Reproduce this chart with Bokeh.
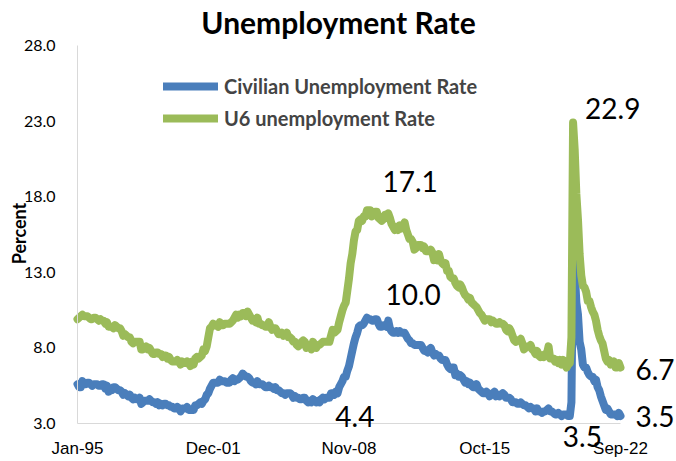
import pandas as pd
from math import pi
from bokeh.plotting import figure
from bokeh.models import (Range1d, FixedTicker, Legend, LegendItem, Label,
                          PrintfTickFormatter, LinearAxis)
from bokeh.embed import file_html
from bokeh.resources import INLINE

# Monthly data, Jan-1995 .. Sep-2022
civilian = [
    5.6, 5.4, 5.4, 5.8, 5.6, 5.6, 5.7, 5.7, 5.6, 5.5, 5.6, 5.6,   # 1995
    5.6, 5.5, 5.5, 5.6, 5.6, 5.3, 5.5, 5.1, 5.2, 5.2, 5.4, 5.4,   # 1996
    5.3, 5.2, 5.2, 5.1, 4.9, 5.0, 4.9, 4.8, 4.9, 4.7, 4.6, 4.7,   # 1997
    4.6, 4.6, 4.7, 4.3, 4.4, 4.5, 4.5, 4.5, 4.6, 4.5, 4.4, 4.4,   # 1998
    4.3, 4.4, 4.2, 4.3, 4.2, 4.3, 4.3, 4.2, 4.2, 4.1, 4.1, 4.0,   # 1999
    4.0, 4.1, 4.0, 3.8, 4.0, 4.0, 4.0, 4.1, 3.9, 3.9, 3.9, 3.9,   # 2000
    4.2, 4.2, 4.3, 4.4, 4.3, 4.5, 4.6, 4.9, 5.0, 5.3, 5.5, 5.7,   # 2001
    5.7, 5.7, 5.7, 5.9, 5.8, 5.8, 5.8, 5.7, 5.7, 5.7, 5.9, 6.0,   # 2002
    5.8, 5.9, 5.9, 6.0, 6.1, 6.3, 6.2, 6.1, 6.1, 6.0, 5.8, 5.7,   # 2003
    5.7, 5.6, 5.8, 5.6, 5.6, 5.6, 5.5, 5.4, 5.4, 5.5, 5.4, 5.4,   # 2004
    5.3, 5.4, 5.2, 5.2, 5.1, 5.0, 5.0, 4.9, 5.0, 5.0, 5.0, 4.9,   # 2005
    4.7, 4.8, 4.7, 4.7, 4.6, 4.6, 4.7, 4.7, 4.5, 4.4, 4.5, 4.4,   # 2006
    4.6, 4.5, 4.4, 4.5, 4.4, 4.6, 4.7, 4.6, 4.7, 4.7, 4.7, 5.0,   # 2007
    5.0, 4.9, 5.1, 5.0, 5.4, 5.6, 5.8, 6.1, 6.1, 6.5, 6.8, 7.3,   # 2008
    7.8, 8.3, 8.7, 9.0, 9.4, 9.5, 9.5, 9.6, 9.8, 10.0, 9.9, 9.9,  # 2009
    9.8, 9.8, 9.9, 9.9, 9.6, 9.4, 9.4, 9.5, 9.5, 9.4, 9.8, 9.3,   # 2010
    9.1, 9.0, 9.0, 9.1, 9.0, 9.1, 9.0, 9.0, 9.0, 8.8, 8.6, 8.5,   # 2011
    8.3, 8.3, 8.2, 8.2, 8.2, 8.2, 8.2, 8.0, 7.8, 7.8, 7.7, 7.9,   # 2012
    8.0, 7.7, 7.5, 7.6, 7.5, 7.5, 7.3, 7.2, 7.2, 7.2, 6.9, 6.7,   # 2013
    6.6, 6.7, 6.7, 6.2, 6.3, 6.1, 6.2, 6.1, 5.9, 5.7, 5.8, 5.6,   # 2014
    5.7, 5.5, 5.4, 5.4, 5.6, 5.3, 5.2, 5.1, 5.0, 5.0, 5.1, 5.0,   # 2015
    4.8, 4.9, 5.0, 5.1, 4.8, 4.9, 4.8, 4.9, 5.0, 4.9, 4.7, 4.7,   # 2016
    4.7, 4.6, 4.4, 4.4, 4.4, 4.3, 4.3, 4.4, 4.3, 4.2, 4.2, 4.1,   # 2017
    4.0, 4.1, 4.0, 4.0, 3.8, 4.0, 3.8, 3.8, 3.7, 3.8, 3.8, 3.9,   # 2018
    4.0, 3.8, 3.8, 3.7, 3.6, 3.6, 3.7, 3.6, 3.5, 3.6, 3.6, 3.6,   # 2019
    3.5, 3.5, 4.4, 14.7, 13.2, 11.0, 10.2, 8.4, 7.9, 6.9, 6.7, 6.7,  # 2020
    6.4, 6.2, 6.1, 6.1, 5.8, 5.9, 5.4, 5.2, 4.8, 4.5, 4.2, 3.9,   # 2021
    4.0, 3.8, 3.6, 3.6, 3.6, 3.6, 3.5, 3.7, 3.5,                  # 2022
]

u6 = [
    9.9, 10.0, 10.1, 10.2, 10.1, 10.1, 10.1, 10.0, 9.9, 9.9, 10.0, 10.0,   # 1995
    9.9, 9.8, 9.9, 9.8, 9.8, 9.6, 9.7, 9.4, 9.4, 9.4, 9.3, 9.5,            # 1996
    9.4, 9.3, 9.3, 9.1, 8.8, 8.9, 8.8, 8.7, 8.7, 8.4, 8.3, 8.4,            # 1997
    8.4, 8.4, 8.4, 7.9, 7.9, 8.0, 8.1, 7.9, 8.0, 7.8, 7.6, 7.6,            # 1998
    7.7, 7.7, 7.6, 7.6, 7.4, 7.5, 7.5, 7.3, 7.4, 7.2, 7.1, 7.1,            # 1999
    7.1, 7.2, 7.1, 6.9, 7.1, 7.0, 7.0, 7.1, 7.0, 6.8, 7.1, 6.9,            # 2000
    7.3, 7.4, 7.3, 7.4, 7.5, 7.9, 7.8, 8.1, 8.7, 9.3, 9.4, 9.6,            # 2001
    9.5, 9.5, 9.4, 9.7, 9.5, 9.5, 9.6, 9.6, 9.6, 9.6, 9.7, 9.8,            # 2002
    10.0, 10.2, 10.0, 10.2, 10.1, 10.3, 10.3, 10.1, 10.4, 10.2, 10.0, 9.8, # 2003
    9.9, 9.7, 10.0, 9.6, 9.6, 9.5, 9.5, 9.4, 9.4, 9.7, 9.4, 9.2,           # 2004
    9.3, 9.3, 9.1, 8.9, 8.9, 9.0, 8.8, 8.9, 9.0, 8.7, 8.7, 8.6,            # 2005
    8.4, 8.4, 8.2, 8.1, 8.2, 8.4, 8.5, 8.4, 8.0, 8.2, 8.1, 7.9,            # 2006
    8.4, 8.2, 8.0, 8.2, 8.2, 8.3, 8.4, 8.4, 8.4, 8.4, 8.4, 8.8,            # 2007
    9.2, 9.0, 9.1, 9.2, 9.7, 10.1, 10.5, 10.8, 11.0, 11.8, 12.6, 13.6,     # 2008
    14.2, 15.1, 15.7, 15.8, 16.4, 16.5, 16.4, 16.7, 16.7, 17.1, 17.1, 17.1,  # 2009
    16.7, 16.9, 17.0, 17.0, 16.6, 16.5, 16.4, 16.5, 16.8, 16.6, 16.9, 16.6,  # 2010
    16.2, 16.0, 15.8, 16.0, 15.8, 16.1, 15.9, 16.1, 16.3, 15.8, 15.5, 15.2,  # 2011
    15.2, 15.0, 14.5, 14.6, 14.8, 14.8, 14.8, 14.6, 14.7, 14.4, 14.4, 14.4,  # 2012
    14.5, 14.3, 13.8, 13.9, 13.8, 14.2, 13.8, 13.6, 13.5, 13.6, 13.1, 13.1,  # 2013
    12.7, 12.6, 12.6, 12.3, 12.1, 12.0, 12.2, 12.0, 11.7, 11.5, 11.4, 11.2,  # 2014
    11.3, 11.0, 10.9, 10.8, 10.7, 10.5, 10.3, 10.2, 10.0, 9.8, 9.9, 9.9,     # 2015
    9.9, 9.7, 9.8, 9.7, 9.6, 9.6, 9.7, 9.6, 9.6, 9.5, 9.2, 9.1,             # 2016
    9.3, 9.1, 8.8, 8.5, 8.4, 8.5, 8.5, 8.6, 8.3, 7.9, 8.0, 8.1,             # 2017
    8.1, 8.2, 7.9, 7.8, 7.6, 7.8, 7.5, 7.4, 7.5, 7.4, 7.6, 7.6,             # 2018
    8.1, 7.3, 7.3, 7.3, 7.1, 7.2, 7.0, 7.2, 6.9, 7.2, 6.9, 6.7,             # 2019
    6.9, 7.0, 8.7, 22.9, 21.1, 18.2, 16.5, 14.2, 12.8, 12.1, 12.0, 11.7,    # 2020
    11.1, 11.1, 10.7, 10.4, 10.2, 9.8, 9.2, 8.8, 8.5, 8.3, 7.8, 7.3,        # 2021
    7.1, 7.2, 6.9, 7.0, 7.1, 6.7, 6.7, 7.0, 6.7,                            # 2022
]

tick_labels = ["Jan-95", "Dec-01", "Nov-08", "Oct-15", "Sep-22"]
y_ticks = [3.0, 8.0, 13.0, 18.0, 23.0, 28.0]
series_names = ["Civilian Unemployment Rate", "U6 unemployment Rate"]
series_colors = ["#4A7EBB", "#9BBB59"]

months = list(pd.date_range("1995-01-01", periods=len(civilian), freq="MS").strftime("%b-%y"))
x = list(range(len(civilian)))
tick_idx = [months.index(t) for t in tick_labels]
n = len(civilian)

# ---- layout (pixels on the canvas) ----
W, H = 676, 461
X0_PX, X1_PX = 77, 620        # first / last month
Y_LO_PX, Y_HI_PX = 423, 45    # 3.0 / 28.0
Y_LO, Y_HI = y_ticks[0], y_ticks[-1]
sx = (X1_PX - X0_PX) / (n - 1)
sy = (Y_LO_PX - Y_HI_PX) / (Y_HI - Y_LO)


def px_x(px):
    return (px - X0_PX) / sx


def px_y(py):
    return Y_LO + (Y_LO_PX - py) / sy


p = figure(width=W, height=H, output_backend="svg", toolbar_location=None,
           x_range=Range1d(px_x(0), px_x(W)), y_range=Range1d(px_y(H), px_y(0)),
           x_axis_location=None, y_axis_location=None, min_border=0)
p.outline_line_color = None
p.background_fill_color = "white"
p.border_fill_color = "white"
p.xgrid.visible = False
p.ygrid.visible = False

xaxis = LinearAxis(fixed_location=Y_LO, bounds=(0, n - 1))
yaxis = LinearAxis(fixed_location=0, bounds=(Y_LO, Y_HI))
for ax in (xaxis, yaxis):
    ax.axis_line_color = "#D9D9D9"
    ax.axis_line_width = 1
    ax.major_tick_line_color = None
    ax.minor_tick_line_color = None
    ax.major_tick_out = 0
    ax.major_tick_in = 0
    ax.major_label_text_color = "#000000"

xaxis.ticker = FixedTicker(ticks=tick_idx)
xaxis.major_label_overrides = {i: lab for i, lab in zip(tick_idx, tick_labels)}
xaxis.major_label_text_font = "Liberation Sans"
xaxis.major_label_text_font_size = "17px"
xaxis.major_label_standoff = 15

yaxis.ticker = FixedTicker(ticks=y_ticks)
yaxis.formatter = PrintfTickFormatter(format="%.1f")
yaxis.major_label_text_font = "Lato"
yaxis.major_label_text_font_size = "16px"
yaxis.major_label_standoff = 22

p.add_layout(xaxis, "below")
p.add_layout(yaxis, "left")

r1 = p.line(x, civilian, line_width=8, line_color=series_colors[0], line_join="round", line_cap="round")
r2 = p.line(x, u6, line_width=8, line_color=series_colors[1], line_join="round", line_cap="round")

legend = Legend(items=[LegendItem(label=series_names[0], renderers=[r1]),
                       LegendItem(label=series_names[1], renderers=[r2])],
                location=(163, 331), orientation="vertical",
                padding=0, margin=0, spacing=8,
                glyph_width=55, glyph_height=20, label_height=20, label_standoff=6,
                label_text_font="Lato", label_text_font_style="bold", label_text_font_size="20px",
                background_fill_alpha=0, border_line_alpha=0)
p.add_layout(legend)

# title
p.add_layout(Label(x=px_x(338), y=px_y(21), text="Unemployment Rate",
                   text_align="center", text_baseline="alphabetic",
                   text_font="Lato", text_font_style="bold", text_font_size="30px",
                   text_color="#000000"))

# y axis title
p.add_layout(Label(x=px_x(18.5), y=px_y(233), text="Percent", angle=pi / 2,
                   text_align="center", text_baseline="middle",
                   text_font="Lato", text_font_style="bold", text_font_size="18px",
                   text_color="#000000"))

# data labels: (month, series, x_offset, y_offset)
annotations = [
    ("Apr-20", u6, 12, 14),
    ("Oct-09", u6, 15.5, 29),
    ("Oct-09", civilian, 18.5, 23),
    ("Mar-07", civilian, 19, -14),
    ("Feb-20", civilian, -7, -21),
    ("Sep-22", u6, 15, -2),
    ("Sep-22", civilian, 15, -1),
]
for m, s, dx, dy in annotations:
    i = months.index(m)
    p.add_layout(Label(x=i, y=s[i], text=f"{s[i]:.1f}", x_offset=dx, y_offset=dy,
                       text_align="left", text_baseline="alphabetic",
                       text_font="Lato", text_font_size="28px", text_color="#000000"))

open("out.html", "w").write(file_html(p, INLINE))
